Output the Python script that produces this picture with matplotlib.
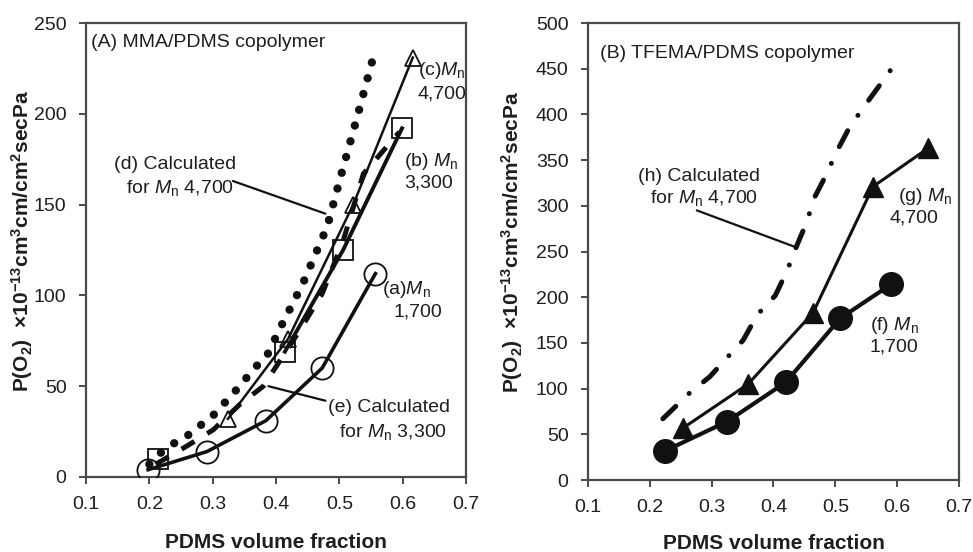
import matplotlib
matplotlib.use("Agg")
import matplotlib.pyplot as plt

plt.rcParams["font.family"] = ["Liberation Sans", "DejaVu Sans"]
plt.rcParams["mathtext.fontset"] = "custom"
plt.rcParams["mathtext.rm"] = "Liberation Sans"
plt.rcParams["mathtext.it"] = "Liberation Sans:italic"
plt.rcParams["mathtext.bf"] = "Liberation Sans:bold"

# --- (A) MMA/PDMS copolymer ---
a_x = [0.198, 0.291, 0.384, 0.473, 0.557]          # (a) Mn 1,700
a_y = [4, 14, 31, 60, 112]
b_x = [0.214, 0.414, 0.506, 0.599]                 # (b) Mn 3,300
b_y = [10, 69, 125, 192]
c_x = [0.324, 0.419, 0.522, 0.616]                 # (c) Mn 4,700
c_y = [32, 76, 150, 231]
d_x = [0.20, 0.22, 0.241, 0.261, 0.301, 0.335, 0.369, 0.386, 0.408, 0.430,
       0.443, 0.481, 0.501, 0.528, 0.555]          # (d) calculated 4,700
d_y = [7, 14, 19, 23, 34, 47, 61, 67, 83, 98, 107, 138, 164, 198, 233]
e_x = [0.21, 0.259, 0.301, 0.343, 0.380, 0.438, 0.473, 0.506, 0.538, 0.595]
e_y = [7, 17, 26, 40, 50, 81, 101, 130, 167, 190]  # (e) calculated 3,300

# --- (B) TFEMA/PDMS copolymer ---
f_x = [0.225, 0.325, 0.420, 0.508, 0.590]          # (f) Mn 1,700
f_y = [32, 64, 107, 177, 214]
g_x = [0.254, 0.359, 0.464, 0.561, 0.650]          # (g) Mn 4,700
g_y = [57, 105, 183, 321, 363]
h_x = [0.221, 0.264, 0.297, 0.325, 0.351, 0.374, 0.403, 0.422, 0.435, 0.453,
       0.467, 0.486, 0.502, 0.523, 0.548, 0.574, 0.591]   # (h) calculated
h_y = [67, 95, 113, 134, 153, 181, 202, 229, 252, 281, 310, 335, 359, 386,
       410, 434, 450]

x_ticks = [0.1, 0.2, 0.3, 0.4, 0.5, 0.6, 0.7]
ya_ticks = [0, 50, 100, 150, 200, 250]
yb_ticks = [0, 50, 100, 150, 200, 250, 300, 350, 400, 450, 500]

K = "#111111"
SPINE = "#4a4a4a"
TXT = "#1e1e1e"
YLAB = r"P(O$_\mathbf{2}$)  ×10$^\mathbf{-13}$cm$^\mathbf{3}$cm/cm$^\mathbf{2}$secPa"
FS = 14

fig = plt.figure(figsize=(9.73, 5.52), dpi=100)
axA = fig.add_axes([0.0884, 0.1359, 0.3905, 0.8224])
axB = fig.add_axes([0.6043, 0.1304, 0.3813, 0.8279])


def style(ax, yticks, xlab_y, ylab_x):
    ax.set_xlim(0.1, 0.7)
    ax.set_ylim(yticks[0], yticks[-1])
    ax.set_xticks(x_ticks)
    ax.set_yticks(yticks)
    ax.set_xticklabels([f"{t:.1f}" for t in x_ticks])
    for s in ax.spines.values():
        s.set_color(SPINE)
        s.set_linewidth(1.6)
    ax.tick_params(direction="out", length=5, width=1.4, color=SPINE,
                   labelsize=14, labelcolor=TXT, pad=9)
    ax.set_xlabel("PDMS volume fraction", fontsize=15, fontweight="bold", color=TXT)
    ax.set_ylabel(YLAB, fontsize=15, fontweight="bold", color=TXT)
    ax.xaxis.set_label_coords(0.5, xlab_y)
    ax.xaxis.label.set_verticalalignment("center")
    ax.yaxis.set_label_coords(ylab_x, 0.52)
    ax.yaxis.label.set_verticalalignment("center")


def leader(ax, start, end):
    ax.annotate("", xy=end, xytext=start,
                arrowprops=dict(arrowstyle="-", color=K, lw=1.6, shrinkA=0, shrinkB=0))


# panel A
axA.plot(d_x, d_y, color=K, lw=6, ls=(0, (0.01, 1.95)),
         dash_capstyle="round", zorder=2)
axA.plot(e_x, e_y, color=K, lw=3.6, ls=(0, (3, 3)), zorder=2)
axA.plot(a_x, a_y, color=K, lw=2.6, zorder=3)
axA.plot(a_x, a_y, ls="none", marker="o", ms=16, mfc="none", mec=K, mew=1.3, zorder=4)
axA.plot(b_x[1:], b_y[1:], color=K, lw=2.8, zorder=3)
axA.plot(b_x, b_y, ls="none", marker="s", ms=15, mfc="none", mec=K, mew=1.3, zorder=4)
axA.plot(c_x, c_y, color=K, lw=1.8, zorder=3)
axA.plot(c_x, c_y, ls="none", marker="^", ms=12, mfc="none", mec=K, mew=1.3, zorder=4)

axA.text(0.108, 239, "(A) MMA/PDMS copolymer", fontsize=FS, va="center", color=TXT)
axA.text(0.624, 224, r"(c)$\mathit{M}_\mathrm{n}$", fontsize=FS, va="center", color=TXT)
axA.text(0.624, 211, "4,700", fontsize=FS, va="center", color=TXT)
axA.text(0.602, 174, r"(b) $\mathit{M}_\mathrm{n}$", fontsize=FS, va="center", color=TXT)
axA.text(0.602, 162, "3,300", fontsize=FS, va="center", color=TXT)
axA.text(0.144, 172, "(d) Calculated", fontsize=FS, va="center", color=TXT)
axA.text(0.333, 159, r"for $\mathit{M}_\mathrm{n}$ 4,700", fontsize=FS,
         va="center", ha="right", color=TXT)
leader(axA, (0.332, 163), (0.478, 145))
axA.text(0.568, 103, r"(a)$\mathit{M}_\mathrm{n}$", fontsize=FS, va="center", color=TXT)
axA.text(0.585, 91, "1,700", fontsize=FS, va="center", color=TXT)
axA.text(0.482, 38, "(e) Calculated", fontsize=FS, va="center", color=TXT)
axA.text(0.670, 25, r"for $\mathit{M}_\mathrm{n}$ 3,300", fontsize=FS,
         va="center", ha="right", color=TXT)
leader(axA, (0.478, 42), (0.388, 50))
style(axA, ya_ticks, -0.145, -0.168)

# panel B
axB.plot(h_x, h_y, color=K, lw=3.6, ls=(0, (3.6, 3.7, 0.01, 3.7)),
         dash_capstyle="round", zorder=2)
axB.plot(f_x, f_y, color=K, lw=3.0, marker="o", ms=17, mfc=K, mec=K, zorder=3)
axB.plot(g_x, g_y, color=K, lw=2.2, marker="^", ms=15, mfc=K, mec=K, zorder=3)

axB.text(0.119, 467, "(B) TFEMA/PDMS copolymer", fontsize=FS, va="center", color=TXT)
axB.text(0.181, 332, "(h) Calculated", fontsize=FS, va="center", color=TXT)
axB.text(0.375, 309, r"for $\mathit{M}_\mathrm{n}$ 4,700", fontsize=FS,
         va="center", ha="right", color=TXT)
leader(axB, (0.276, 295), (0.435, 255))
axB.text(0.602, 310, r"(g) $\mathit{M}_\mathrm{n}$", fontsize=FS, va="center", color=TXT)
axB.text(0.666, 287, "4,700", fontsize=FS, va="center", ha="right", color=TXT)
axB.text(0.556, 169, r"(f) $\mathit{M}_\mathrm{n}$", fontsize=FS, va="center", color=TXT)
axB.text(0.634, 146, "1,700", fontsize=FS, va="center", ha="right", color=TXT)
style(axB, yb_ticks, -0.138, -0.205)

fig.savefig("out.png", dpi=100)
